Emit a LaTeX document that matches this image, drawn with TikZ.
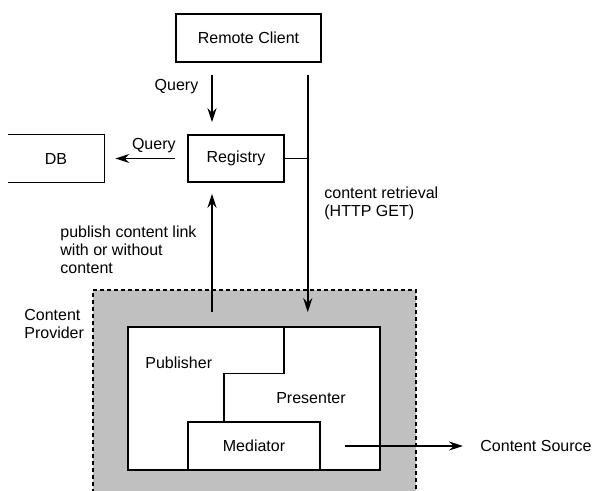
\documentclass[tikz,border=0pt]{standalone}
\usepackage{fontspec}
\setmainfont{Liberation Sans}
\usetikzlibrary{arrows.meta, positioning, calc}
\definecolor{provgray}{RGB}{192,192,192}

\begin{document}
\begin{tikzpicture}[x=0.5pt, y=-0.5pt, font=\fontsize{8}{9}\selectfont,
    box/.style={draw, line width=0.75pt, inner sep=0pt},
    conn/.style={line width=0.75pt},
    arr/.style={conn, -{Stealth[length=7pt,width=4.5pt]}},
    txt/.style={align=left, inner sep=0pt}]
        \useasboundingbox (0,0) rectangle (593,491);
        % Content provider area
        \fill[provgray] (93,290) rectangle (416,500);
        \draw[dash pattern=on 2pt off 1.5pt, line width=0.6pt]
          (93,500) -- (93,290) -- (416,290) -- (416,500);
        \node[box, fill=white, minimum width=126pt, minimum height=71.5pt] (inner) at (254,398.5) {};
        \node[box, minimum width=66pt, minimum height=24pt] (med) at (254,446) {Mediator};
        % Publisher / Presenter split
        \draw[conn] ($(inner.north)+(30,0)$) -- ++(0,47) -| ($(med.north)+(-30,0)$);
        \node[txt, anchor=west] (pub) at (145,363) {Publisher};
        \node[txt] (pres) at (311,398) {Presenter};
        \node[txt, anchor=west] (prov) at (24,324) {Content\\Provider};
        % Top boxes
        \node[box, minimum width=72.5pt, minimum height=24pt] (rc) at (248.5,38) {Remote Client};
        \node[box, minimum width=48pt, minimum height=23.5pt] (reg) at (236,158.5) {Registry};
        \node[minimum width=48pt, minimum height=23.5pt, inner sep=0pt] (db) at (56,158.5) {DB};
        \draw[conn] (db.north west) -- (db.north east) -- (db.south east) -- (db.south west);
        % Queries
        \coordinate (qin) at ([xshift=-12pt]reg.north);
        \draw[arr, shorten <=6pt, shorten >=6pt] (rc.south -| qin) -- (qin)
          node[txt, pos=0.33, left=6.5pt] {Query};
        \draw[arr, shorten <=6pt, shorten >=5.5pt] (reg.west) -- (db.east)
          node[txt, midway, above=2.5pt, xshift=4pt] {Query};
        % Content retrieval
        \coordinate (rx) at ([xshift=-7pt]rc.south east);
        \draw[arr, shorten <=6pt, shorten >=7pt] (rx) -- (rx |- inner.north);
        \draw[conn] (reg.east) -- (reg.east -| rx);
        \node[txt, anchor=west] (retr) at (324,203) {content retrieval\\(HTTP GET)};
        % Publishing
        \coordinate (px) at ([xshift=-12pt]reg.south);
        \draw[arr, shorten <=7pt, shorten >=5.5pt] (px |- inner.north) -- (px);
        \node[txt, anchor=west] (publ) at (60,250) {publish content link\\with or without\\content};
        % Content source
        \node[txt, anchor=west] (src) at (480,446) {Content Source};
        \draw[arr, shorten <=12pt, shorten >=8.5pt] (med.east) -- (src.west);
      \end{tikzpicture}
\end{document}
